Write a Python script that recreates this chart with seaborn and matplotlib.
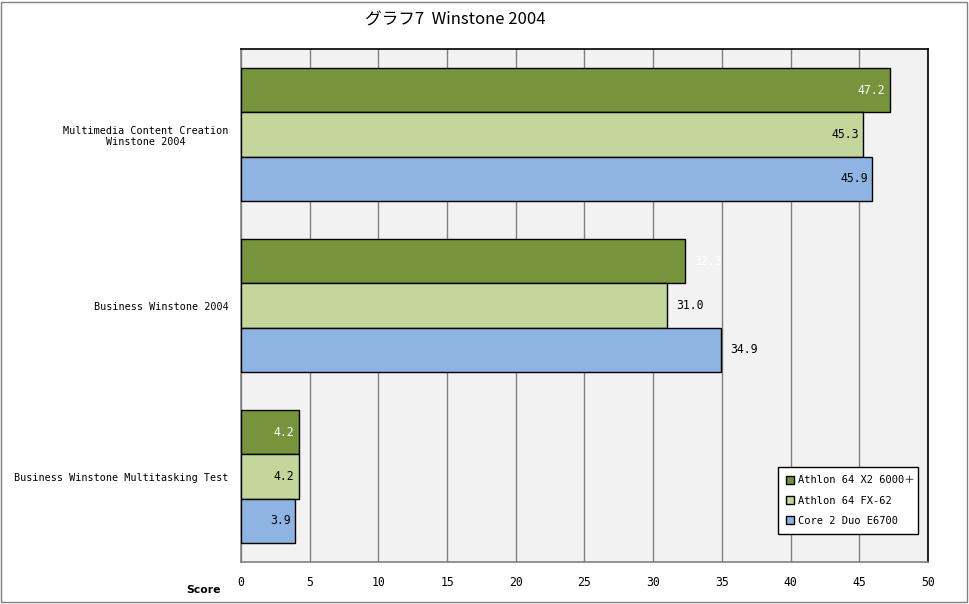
import matplotlib
matplotlib.use("Agg")
import matplotlib.pyplot as plt
import seaborn as sns
import pandas as pd
from matplotlib.patches import Rectangle

categories = ["Multimedia Content Creation\nWinstone 2004",
              "Business Winstone 2004",
              "Business Winstone Multitasking Test"]
series = ["Athlon 64 X2 6000+", "Athlon 64 FX-62", "Core 2 Duo E6700"]
legend_labels = ["Athlon 64 X2 6000＋", "Athlon 64 FX-62", "Core 2 Duo E6700"]
athlon_x2 = [47.2, 32.3, 4.2]
athlon_fx = [45.3, 31.0, 4.2]
core2 = [45.9, 34.9, 3.9]
x_ticks = [0, 5, 10, 15, 20, 25, 30, 35, 40, 45, 50]
title = "グラフ7  Winstone 2004"
x_label = "Score"
outside_category = "Business Winstone 2004"

colors = ["#77933C", "#C3D69B", "#8EB4E3"]
label_colors = ["white", "black", "black"]

rows = []
for s, vals in zip(series, [athlon_x2, athlon_fx, core2]):
    for c, v in zip(categories, vals):
        rows.append({"category": c, "series": s, "value": v})
df = pd.DataFrame(rows)

sns.set_theme(style="white")
mono = ["DejaVu Sans Mono", "Noto Sans CJK JP"]
plt.rcParams["font.family"] = mono
plt.rcParams["text.color"] = "black"
plt.rcParams["xtick.color"] = "black"
plt.rcParams["ytick.color"] = "black"
plt.rcParams["axes.labelcolor"] = "black"

fig = plt.figure(figsize=(9.7, 6.04), dpi=100)
ax = fig.add_axes([241/970, 1-562/604, 687/970, 513/604])
ax.set_facecolor("#F2F2F2")

sns.barplot(data=df, y="category", x="value", hue="series", order=categories,
            hue_order=series, palette=colors, orient="h", width=0.78,
            edgecolor="black", linewidth=1.0, saturation=1, ax=ax, legend=True, zorder=3)

num_size = 8.3
ax.set_xlim(0, 50)
ax.set_ylim(2.5, -0.5)
ax.set_xticks(x_ticks)
ax.set_xticklabels([str(t) for t in x_ticks], fontsize=num_size, color="black")
ax.tick_params(axis="x", length=0, pad=10)
ax.tick_params(axis="y", which="major", length=0, pad=9)
ax.set_yticks(range(len(categories)))
ax.set_yticklabels(categories, fontsize=7.3, ha="right", multialignment="center", color="black")
ax.set_yticks([0.5, 1.5], minor=True)
ax.tick_params(axis="y", which="minor", length=3, width=1, color="#808080", direction="out")
ax.set_xlabel("")
ax.set_ylabel("")
ax.grid(axis="x", color="#808080", linewidth=1, zorder=0)
ax.set_axisbelow(True)
for side, col in [("top", "black"), ("right", "black"), ("left", "#808080"), ("bottom", "#808080")]:
    ax.spines[side].set_visible(True)
    ax.spines[side].set_color(col)
    ax.spines[side].set_linewidth(1.2)

for i, cont in enumerate(ax.containers):
    for j, patch in enumerate(cont.patches):
        w = patch.get_width()
        yc = patch.get_y() + patch.get_height() / 2
        if categories[j] == outside_category:
            ax.annotate(f"{w:.1f}", xy=(w, yc), xytext=(7, 0), textcoords="offset points",
                        ha="left", va="center", fontsize=num_size, color=label_colors[i], zorder=5)
        else:
            ax.annotate(f"{w:.1f}", xy=(w, yc), xytext=(-3, 0), textcoords="offset points",
                        ha="right", va="center", fontsize=num_size, color=label_colors[i], zorder=5)

handles, _ = ax.get_legend_handles_labels()
leg = ax.legend(handles, legend_labels, loc="lower left", bbox_to_anchor=(0.782, 0.055, 0.203, 0.132),
          mode="expand", fontsize=7.5, frameon=True, fancybox=False, framealpha=1,
          edgecolor="black", handlelength=0.8, handleheight=0.8, handletextpad=0.3,
          borderpad=0.75, labelspacing=1.0, borderaxespad=0)
leg.get_frame().set_linewidth(1.0)
for t in leg.get_texts():
    t.set_color("black")

fig.text(455/970, 1-20/604, title, ha="center", va="center", fontsize=12,
         color="black", family=["Noto Sans CJK JP", "DejaVu Sans"])
fig.text(204/970, 1-590/604, x_label, ha="center", va="center", fontsize=7.8,
         fontweight="bold", color="black", family=["DejaVu Sans"])

fig.add_artist(Rectangle((1/970, 2/604), 966/970, 600/604, transform=fig.transFigure,
                         fill=False, edgecolor="#808080", linewidth=1))

fig.savefig("out.png", dpi=100)
